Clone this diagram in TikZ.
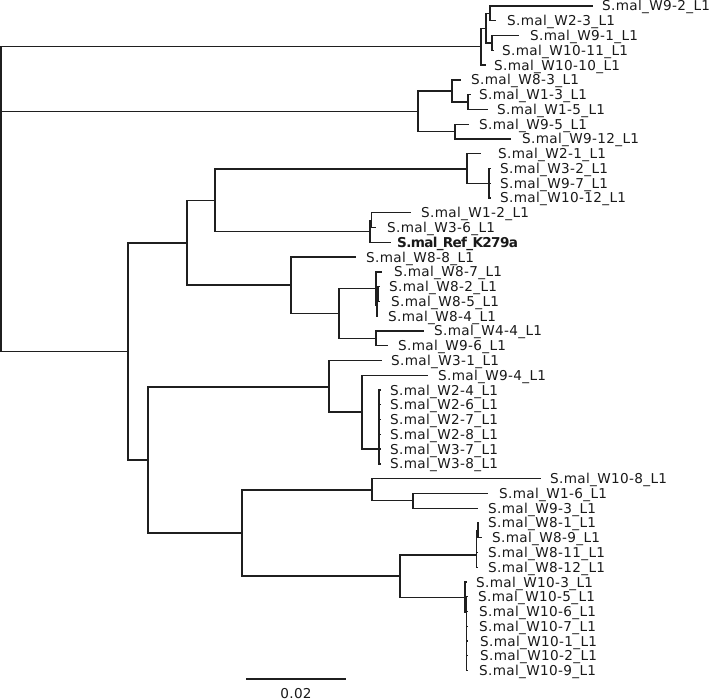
\documentclass[tikz,border=0pt]{standalone}
\usepackage{fontspec}
\setmainfont{DejaVu Sans}[LetterSpace=2.5]
\newfontfamily\reffont{DejaVu Sans Bold}[LetterSpace=-5]
\begin{document}
\begin{tikzpicture}[x=1pt,y=-1pt,
  br/.style={line width=1.3pt,line cap=rect,line join=miter,draw=black!88},
  lab/.style={anchor=base west,inner sep=0pt,font=\fontsize{13.6}{15}\selectfont,text=black!90}]
\useasboundingbox (0,0) rectangle (709,700);
% internal nodes
\coordinate (R) at (1,200);
\coordinate (A) at (481,46.6);
\coordinate (A1) at (486,28.2);
\coordinate (A11) at (490,13.4);
\coordinate (A12) at (492,42.9);
\coordinate (B) at (418,111.3);
\coordinate (B1) at (452,91);
\coordinate (B11) at (468,102);
\coordinate (B2) at (455,131.5);
\coordinate (C) at (128,351.5);
\coordinate (C1) at (187,243);
\coordinate (C11) at (215,200.5);
\coordinate (C111) at (467,169);
\coordinate (C1111) at (489,183.2);
\coordinate (C112) at (370,231.5);
\coordinate (C1121) at (371.5,220.2);
\coordinate (C12) at (291,285);
\coordinate (C121) at (339,313.5);
\coordinate (C1211) at (376,288.7);
\coordinate (C12111) at (377,305);
\coordinate (C121111) at (378,294);
\coordinate (C1212) at (376,338.3);
\coordinate (C2) at (148,460);
\coordinate (C21) at (329,387);
\coordinate (C211) at (362,412);
\coordinate (C2111) at (379,449);
\coordinate (C22) at (242,533);
\coordinate (C221) at (372,490);
\coordinate (C2211) at (413,500.8);
\coordinate (C222) at (400,576);
\coordinate (C2221) at (476.5,555);
\coordinate (C22211) at (478,530.3);
\coordinate (C2222) at (465,597.5);
\coordinate (C22221) at (466.5,612);
% internal branches
\foreach \p/\c in {R/A,R/B,R/C,A/A1,A1/A11,A1/A12,B/B1,B/B2,B1/B11,
  C/C1,C/C2,C1/C11,C1/C12,C11/C111,C11/C112,C111/C1111,C112/C1121,
  C12/C121,C121/C1211,C121/C1212,C1211/C12111,C12111/C121111,
  C2/C21,C2/C22,C21/C211,C211/C2111,C22/C221,C22/C222,C221/C2211,
  C222/C2221,C222/C2222,C2221/C22211,C2222/C22221}
  {\draw[br] (\p) |- (\c);}
% leaves
\foreach \i/\nm/\y/\tp/\tx/\pa in {
  1/W9-2/6.0/592/602/A11, 2/W2-3/20.8/495/507/A11,
  3/W9-1/35.5/518/530/A12, 4/W10-11/50.3/493/502/A12,
  5/W10-10/65.1/485/494/A, 6/W8-3/79.9/460/471/B1,
  7/W1-3/94.6/470/479/B11, 8/W1-5/109.4/487/497/B11,
  9/W9-5/124.2/468/479/B2, 10/W9-12/138.9/510/522/B2,
  11/W2-1/153.7/480/498/C111, 12/W3-2/168.5/490/500/C1111,
  13/W9-7/183.2/490/500/C1111, 14/W10-12/198.0/490/500/C1111,
  15/W1-2/212.8/410/421/C1121, 16/W3-6/227.5/375/387/C1121,
  18/W8-8/257.1/355/366/C12, 19/W8-7/271.9/381/394/C1211,
  20/W8-2/286.6/379/389/C121111, 21/W8-5/301.4/379/391/C121111,
  22/W8-4/316.2/377/388/C12111, 23/W4-4/330.9/423/434/C1212,
  24/W9-6/345.7/387/398/C1212, 25/W3-1/360.5/381/391/C21,
  26/W9-4/375.2/427/438/C211, 27/W2-4/390.0/380/390/C2111,
  28/W2-6/404.8/380/390/C2111, 29/W2-7/419.5/380/390/C2111,
  30/W2-8/434.3/380/390/C2111, 31/W3-7/449.1/380/390/C2111,
  32/W3-8/463.9/380/390/C2111, 33/W10-8/478.6/540/550/C221,
  34/W1-6/493.4/487/499/C2211, 35/W9-3/508.2/477/488/C2211,
  36/W8-1/522.9/478/488/C22211, 37/W8-9/537.7/481/492/C22211,
  38/W8-11/552.5/477/488/C2221, 39/W8-12/567.2/477/488/C2221,
  40/W10-3/582.0/466/476/C2222, 41/W10-5/596.8/467/478/C22221,
  42/W10-6/611.5/467/479/C22221, 43/W10-7/626.3/467/479/C22221,
  44/W10-1/641.1/467/480/C22221, 45/W10-2/655.8/467/480/C22221,
  46/W10-9/670.6/467/479/C22221}
{
  \coordinate (t\i) at (\tp,\y);
  \node[lab] (l\i) at (\tx,\y+5) {S.mal\_\nm\_L1};
  \draw[br] (\pa) |- (t\i);
}
% reference strain (bold)
\coordinate (t17) at (390,242.3);
\node[lab] (l17) at (397,247.3) {\reffont S.mal\_Ref\_K279a};
\draw[br] (C112) |- (t17);
% scale bar
\coordinate (s1) at (247,679);
\coordinate (s2) at (345,679);
\draw[br] (s1) -- (s2);
\node[lab,anchor=base] (scale) at (296,698) {0.02};
\end{tikzpicture}
\end{document}
